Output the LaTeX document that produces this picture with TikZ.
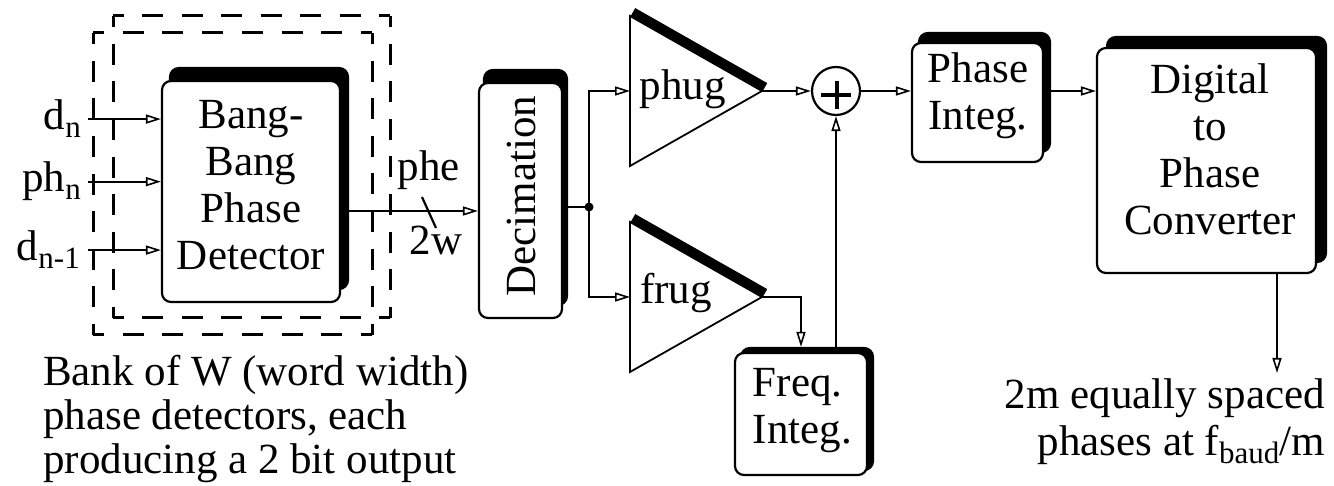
\documentclass[tikz,border=0pt]{standalone}
\usepackage{fontspec}
\setmainfont{Liberation Serif}
\usetikzlibrary{arrows.meta,shadows}
% lowered, smaller index text (d_n, f_baud)
\newcommand{\lowsub}[1]{\raisebox{-8pt}{\fontsize{31}{31}\selectfont #1}}
% one side of a dashed frame: dashes of 21pt, 11pt corner arms, gap #3
\newcommand{\frameside}[3]{\draw[bank, dash pattern=on 21pt off #3pt, dash phase=10pt] #1 -- #2;}

\begin{document}
\begin{tikzpicture}[x=1pt,y=-1pt,
  wire/.style={line width=2.2pt, -{Triangle[open,length=15pt,width=9pt,line width=1.6pt]}},
  plainwire/.style={line width=2.2pt},
  blk/.style={draw, line width=2.2pt, fill=white, rounded corners=9pt, inner sep=0pt},
  boxshadow/.style 2 args={copy shadow={shadow xshift=#1, shadow yshift=#2, fill=black, draw=black, line width=2.2pt}},
  lbl/.style={inner sep=0pt, font=\fontsize{43}{47}\selectfont},
  bank/.style={line width=3pt},
  tri/.style={line width=1.8pt, line join=miter},
  triedge/.style={line width=9pt},
]
\useasboundingbox (0,0) rectangle (1334,486);

% bank of phase detectors: two stacked dashed frames
\frameside{(93,33)}{(372,33)}{18.71}
\frameside{(372,33)}{(372,335)}{16.62}
\frameside{(372,335)}{(93,335)}{18.71}
\frameside{(93,335)}{(93,33)}{16.62}
\frameside{(113,16)}{(390,16)}{18.43}
\frameside{(390,16)}{(390,318)}{16.62}
\frameside{(390,318)}{(113,318)}{18.43}
\frameside{(113,318)}{(113,16)}{16.62}

% blocks with heavy shadow on top and right
\node[blk, boxshadow={8pt}{13pt}, minimum width=178pt, minimum height=221pt] (bbpd) at (251,191.5) {};
\node[blk, boxshadow={5pt}{13pt}, minimum width=83pt, minimum height=235pt] (dec) at (520.5,200.5) {};
\node[blk, boxshadow={7pt}{10pt}, minimum width=131pt, minimum height=119pt] (pint) at (977.5,102.5) {};
\node[blk, boxshadow={10pt}{11pt}, minimum width=219pt, minimum height=225pt] (dpc) at (1206.5,160.5) {};
\node[blk, boxshadow={6pt}{5pt}, minimum width=132pt, minimum height=122pt] (freq) at (801,414) {};

\node[lbl, align=center] (bbpdtext) at (251,185) {Bang-\\Bang\\Phase\\Detector};
\node[lbl, rotate=90] (dectext) at (521,196) {Decimation};
\node[lbl, align=center] (pinttext) at (978,95.4) {Phase\\Integ.};
\node[lbl, align=center] (dpctext) at (1210,148.8) {Digital\\to\\Phase\\Converter};
\node[lbl, align=left] (freqtext) at (802.5,410.4) {Freq.\\Integ.};

% gain stages
\coordinate (phugin) at (630,91);
\coordinate (phugout) at (762,91);
\draw[triedge] (633,12) -- (765,87);
\draw[tri] (630,16) -- (phugout) -- (630,166) -- cycle;
\node[lbl] (phug) at (682.5,89) {phug};

\coordinate (frugin) at (630,297);
\coordinate (frugout) at (762,297);
\draw[triedge] (633,218) -- (765,293);
\draw[tri] (630,222) -- (frugout) -- (630,372) -- cycle;
\node[lbl] (frug) at (676,293) {frug};

% summing junction
\node[draw, circle, line width=2.2pt, minimum size=48pt, inner sep=0pt] (sum) at (836,91) {};
\draw[line width=4.5pt] ([xshift=-15pt,yshift=-4pt]sum.center) -- ([xshift=15pt,yshift=-4pt]sum.center);
\draw[line width=4.5pt] ([xshift=1pt,yshift=10pt]sum.center) -- ([xshift=1pt,yshift=-18pt]sum.center);

% inputs
\node[lbl, anchor=base east] (dn) at (81,130) {d\lowsub{n}};
\node[lbl, anchor=base east] (phn) at (81,192) {ph\lowsub{n}};
\node[lbl, anchor=base east] (dnm) at (80,261) {d\lowsub{n-1}};
\draw[wire] ([xshift=7pt]dn.east) -- (dn.east -| bbpd.west);
\draw[wire] ([xshift=7pt]phn.east) -- (phn.east -| bbpd.west);
\draw[wire] ([xshift=8pt]dnm.east) -- (dnm.east -| bbpd.west);

% phase error bus
\coordinate (pheL) at ([yshift=-19.5pt]bbpd.east);
\draw[wire] (pheL) -- (pheL -| dec.west);
\draw[plainwire] (422,197) -- (436,228);
\node[lbl] (phe) at (429,170) {phe};
\node[lbl] (twow) at (436,240.5) {2w};

% split after decimation
\coordinate (jn) at (589,207);
\draw[plainwire] (dec.east |- jn) -- (jn);
\fill (jn) circle (4.5pt);
\draw[wire] (jn) |- (phugin);
\draw[wire] (jn) |- (frugin);

% loop filter paths
\draw[wire] (phugout) -- (sum.west);
\draw[wire] (frugout) -| ([yshift=5pt]freq.north);
\draw[wire] (sum.south |- freq.north) -- (sum.south);
\draw[wire] (sum.east) -- (sum.east -| pint.west);
\draw[wire] (sum -| pint.east) -- (sum -| dpc.west);

% output
\coordinate (outend) at (1277,373);
\draw[wire] (dpc.south -| outend) -- (outend);

\node[lbl, align=left, anchor=west, font=\fontsize{43}{44}\selectfont] (banktext) at (43,419)
  {Bank of W (word width)\\phase detectors, each\\producing a 2 bit output};
\node[lbl, align=right, anchor=east] (outtext) at (1325,421.5)
  {2m equally spaced\\phases at f\lowsub{baud}/m};
\end{tikzpicture}
\end{document}
